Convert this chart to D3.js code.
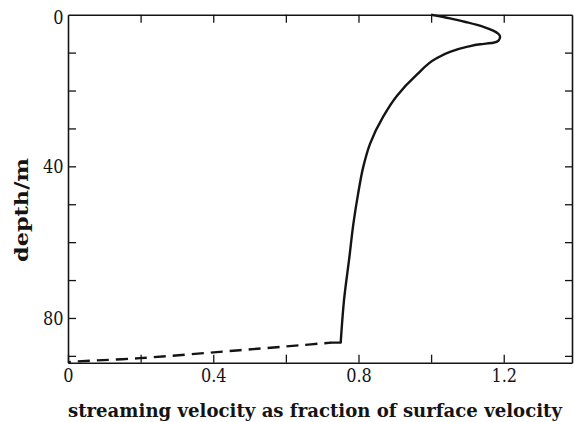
<!DOCTYPE html>
<html>
<head>
<meta charset="utf-8">
<script src="https://cdn.jsdelivr.net/npm/d3@7"></script>
<style>
  html, body { margin: 0; padding: 0; background: #fff; }
  svg { display: block; }
</style>
</head>
<body>
<svg id="chart" width="574" height="422"></svg>
<script>
// Velocity profile: streaming velocity (fraction of surface velocity) against depth.
// Measured part of the profile (solid line); the last point closes onto the bed extrapolation.
const measuredVelocity = [1.0, 1.052, 1.098, 1.144, 1.171, 1.19, 1.185, 1.171, 1.135, 1.098, 1.052,
  1.015, 0.96, 0.905, 0.868, 0.832, 0.813, 0.799, 0.786, 0.775, 0.76, 0.751, 0.725];
const measuredDepth = [0, 0.95, 2.0, 3.2, 4.2, 5.8, 6.9, 7.4, 7.8, 8.5, 9.8,
  11.5, 15.9, 21.5, 26.9, 34, 40.2, 47.2, 55.1, 63.9, 75.4, 86.5, 86.5];

// Extrapolated part down to the bed (dashed line).
const extrapVelocity = [0.725, 0.64, 0.473, 0.198, 0.02, 0];
const extrapDepth = [86.5, 87.2, 88.5, 90.6, 91.5, 91.7];

// Axis ticks and labels.
const xTicks = [0, 0.2, 0.4, 0.6, 0.8, 1.0, 1.2];
const xLabels = [0, 0.4, 0.8, 1.2];
const yTicks = [0, 10, 20, 30, 40, 50, 60, 70, 80, 90];
const yLabels = [0, 40, 80];

const xTitle = "streaming velocity as fraction of surface velocity";
const yTitle = "depth/m";

const svg = d3.select("#chart");
const plotLeft = 68, plotRight = 572, plotTop = 14.7, plotBottom = 362.7;

const x = d3.scaleLinear().domain([0, 1.388]).range([plotLeft, plotRight]);
const y = d3.scaleLinear().domain([0, 91.8]).range([plotTop, plotBottom]);

const ink = "#141414";
const serif = "'DejaVu Serif', serif";
const isIn = (list, v) => list.some(l => Math.abs(l - v) < 1e-9);

function styleAxis(g) {
  g.attr("font-family", serif).attr("font-size", 19);
  g.select(".domain").attr("stroke", ink).attr("stroke-width", 1.6);
  g.selectAll(".tick line").attr("stroke", ink).attr("stroke-width", 1.3);
  g.selectAll(".tick text").attr("fill", ink)
    .style("font-family", serif).style("font-size", "19px")
    .attr("transform", "scale(0.85,1)");
}

// Bottom axis with labels, ticks pointing inward.
svg.append("g").attr("transform", `translate(0,${plotBottom})`)
  .call(d3.axisBottom(x).tickValues(xTicks).tickSizeInner(-8).tickSizeOuter(0).tickPadding(6)
    .tickFormat(v => isIn(xLabels, v) ? String(+v.toFixed(1)) : ""))
  .call(styleAxis);

// Top axis: ticks only.
svg.append("g").attr("transform", `translate(0,${plotTop})`)
  .call(d3.axisTop(x).tickValues(xTicks.filter(v => v > 0)).tickSizeInner(-8).tickSizeOuter(0).tickFormat(""))
  .call(styleAxis);

// Left axis with labels.
const leftAxis = svg.append("g").attr("transform", `translate(${plotLeft},0)`)
  .call(d3.axisLeft(y).tickValues(yTicks).tickSizeInner(-8).tickSizeOuter(0).tickPadding(0)
    .tickFormat(v => isIn(yLabels, v) ? String(v) : ""))
  .call(styleAxis);
// Narrowed labels keep their right edge a few pixels from the axis.
leftAxis.selectAll(".tick text").attr("x", -4.5 / 0.85);
// The "0" at the top corner sits slightly lower than the axis line.
leftAxis.selectAll(".tick").filter(d => d === 0).select("text").attr("dy", "0.45em");
leftAxis.selectAll(".tick").filter(d => d === 0).select("line").remove();

// Right axis: ticks only.
svg.append("g").attr("transform", `translate(${plotRight},0)`)
  .call(d3.axisRight(y).tickValues(yTicks.filter(v => v > 0)).tickSizeInner(-7).tickSizeOuter(0).tickFormat(""))
  .call(styleAxis);

// Profile: smooth spline in depth for the measured part, straight step onto the bed line.
const measured = d3.zip(measuredVelocity, measuredDepth);
const profileLine = d3.line().x(d => x(d[0])).y(d => y(d[1])).curve(d3.curveMonotoneY);
const straight = d3.line().x(d => x(d[0])).y(d => y(d[1]));

svg.append("path")
  .datum(measured.slice(0, -1))
  .attr("d", profileLine)
  .attr("fill", "none").attr("stroke", ink).attr("stroke-width", 2.4)
  .attr("stroke-linejoin", "round");

svg.append("path")
  .datum(measured.slice(-2))
  .attr("d", straight)
  .attr("fill", "none").attr("stroke", ink).attr("stroke-width", 2.4)
  .attr("stroke-linecap", "round");

const bedLine = d3.line().x(d => x(d[0])).y(d => y(d[1])).curve(d3.curveCatmullRom.alpha(0.5));
svg.append("path")
  .datum(d3.zip(extrapVelocity, extrapDepth))
  .attr("d", bedLine)
  .attr("fill", "none").attr("stroke", ink).attr("stroke-width", 2.4)
  .attr("stroke-dasharray", "12 7")
  .attr("stroke-dashoffset", 5);

// Axis titles, set at a fixed size and fitted to their widths.
svg.append("text")
  .attr("x", (plotLeft + 562) / 2).attr("y", 417)
  .attr("text-anchor", "middle")
  .attr("textLength", 494).attr("lengthAdjust", "spacingAndGlyphs")
  .style("font-family", serif).style("font-weight", "bold").style("font-size", "18px")
  .attr("fill", ink).text(xTitle);

svg.append("text")
  .attr("transform", "translate(28,210) rotate(-90)")
  .attr("text-anchor", "middle")
  .attr("textLength", 104).attr("lengthAdjust", "spacingAndGlyphs")
  .style("font-family", serif).style("font-weight", "bold").style("font-size", "19px")
  .attr("fill", ink).text(yTitle);
</script>
</body>
</html>
